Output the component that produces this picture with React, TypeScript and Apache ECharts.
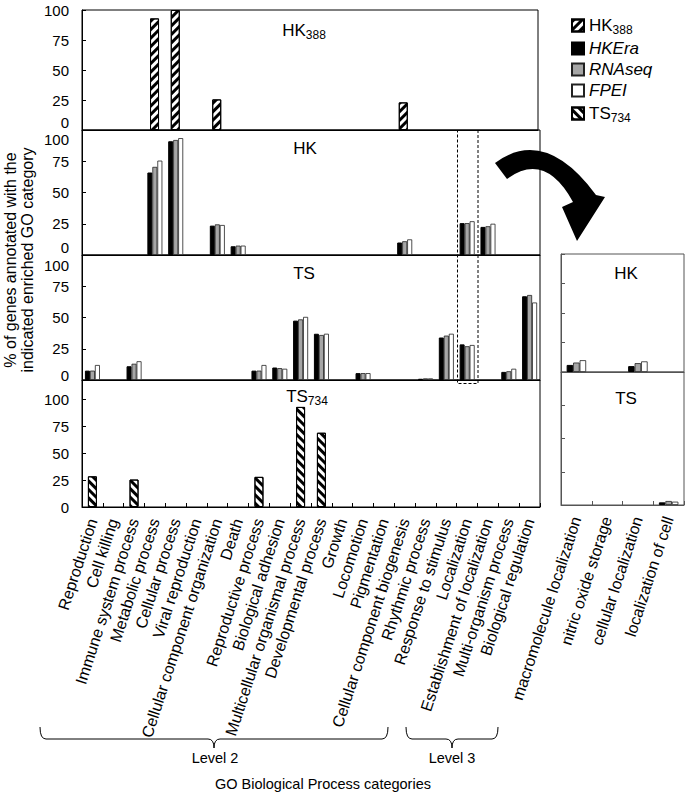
import React, { useEffect, useRef } from 'react';
import * as echarts from 'echarts';

const level2Categories = [
  'Reproduction', 'Cell killing', 'Immune system process', 'Metabolic process', 'Cellular process',
  'Viral reproduction', 'Cellular component organization', 'Death', 'Reproductive process',
  'Biological adhesion', 'Multicellular organismal process', 'Developmental process', 'Growth',
  'Locomotion', 'Pigmentation', 'Cellular component biogenesis', 'Rhythmic process',
  'Response to stimulus', 'Localization', 'Establishment of localization', 'Multi-organism process',
  'Biological regulation',
];
const level3Categories = ['macromolecule localization', 'nitric oxide storage', 'cellular localization', 'localization of cell'];

const yTicks = [0, 25, 50, 75, 100];

// HK388 panel
const hk388 = [null, null, null, 93, 100, null, 25.5, null, null, null, null, null, null, null, null, 23, null, null, null, null, null, null];
// HK panel (level 2)
const hkEraHK = [null, null, null, 66, 91, null, 23.5, 7, null, null, null, null, null, null, null, 10, null, null, 25.5, 22.5, null, null];
const rnaseqHK = [null, null, null, 70.5, 92, null, 24.5, 7.5, null, null, null, null, null, null, null, 11, null, null, 25.5, 23, null, null];
const fpeiHK = [null, null, null, 75.5, 93.5, null, 24, 7.5, null, null, null, null, null, null, null, 12.5, null, null, 27, 25, null, null];
// TS panel (level 2)
const hkEraTS = [7.5, null, 11, null, null, null, null, null, 7.5, 10, 47.5, 37, null, 5.5, null, null, 1, 34, 28.5, null, 6.5, 67];
const rnaseqTS = [7.5, null, 13, null, null, null, null, null, 7.5, 9.5, 48.5, 36, null, 5.5, null, null, 1.3, 35.5, 27, null, 7, 68];
const fpeiTS = [12, null, 15, null, null, null, null, null, 12, 9, 50.5, 37, null, 5.5, null, null, 1.3, 37, 28, null, 9, 62];
// TS734 panel
const ts734 = [28.5, null, 25.5, null, null, null, null, null, 28, null, 93, 69, null, null, null, null, null, null, null, null, null, null];
// Level 3 panels
const hkEraHK3 = [6, null, 5, null];
const rnaseqHK3 = [8, null, 7.5, null];
const fpeiHK3 = [10, null, 9, null];
const hkEraTS3 = [null, null, null, 2];
const rnaseqTS3 = [null, null, null, 3];
const fpeiTS3 = [null, null, null, 2.5];

const FONT = "'Liberation Sans', Arial, Helvetica, sans-serif";

const ARROW_D = 'M495,163 Q545,126 596,195 L605,197 L577,241 L562,207 L573,202 Q545,151 507,179 Z';
const BRACES_D =
  'M40,727 Q40,739 46,739 L208,739 Q214,739 214,748 Q214,739 220,739 L382,739 Q388,739 388,727 ' +
  'M406,727 Q406,739 412,739 L446,739 Q452,739 452,748 Q452,739 458,739 L492,739 Q498,739 498,727';

let registered = false;
function registerShapes() {
  if (registered) return;
  echarts.graphic.registerShape('curvedArrow', echarts.graphic.extendPath(ARROW_D, {}) as any);
  echarts.graphic.registerShape('braces', echarts.graphic.extendPath(BRACES_D, {}) as any);
  registered = true;
}

const hatch = (rotation: number) => ({
  symbol: 'rect',
  symbolSize: 1,
  dashArrayX: [1, 0],
  dashArrayY: [2.5, 2.5],
  rotation,
  color: '#000',
});

const fillStyle: Record<string, any> = {
  HKEra: { color: '#000', borderColor: '#000', borderWidth: 1 },
  RNAseq: { color: '#a6a6a6', borderColor: '#222', borderWidth: 0.8 },
  FPEI: { color: '#fff', borderColor: '#222', borderWidth: 0.8 },
  HK388: { color: '#fff', borderColor: '#000', borderWidth: 1, decal: hatch(-Math.PI / 4) },
  TS734: { color: '#fff', borderColor: '#000', borderWidth: 1, decal: hatch(Math.PI / 4) },
};

function yAxisCfg(gridIndex: number, max: number, shiftTop: number, shiftBottom: number, showLabels = true, lineColor = '#000') {
  return {
    type: 'value',
    gridIndex,
    min: 0,
    max,
    interval: 25,
    splitLine: { show: false },
    axisLine: { show: true, lineStyle: { color: lineColor, width: 1 } },
    axisTick: { show: true, inside: true, length: 4, lineStyle: { color: lineColor } },
    axisLabel: {
      show: showLabels,
      showMaxLabel: max === 100,
      margin: 13,
      fontSize: 15,
      color: '#000',
      fontFamily: FONT,
      formatter: (v: number) => {
        if (!yTicks.includes(v)) return '';
        if (v === 100) return '{t|100}';
        if (v === 0) return '{b|0}';
        return `{n|${v}}`;
      },
      rich: {
        n: { fontSize: 15, lineHeight: 14, fontFamily: FONT, color: '#000' },
        t: { fontSize: 15, lineHeight: 14, fontFamily: FONT, color: '#000', padding: [shiftTop * 2, 0, 0, 0] },
        b: { fontSize: 15, lineHeight: 14, fontFamily: FONT, color: '#000', padding: [0, 0, shiftBottom * 2, 0] },
      },
    },
  };
}

function xAxisCfg(gridIndex: number, data: string[], labels: boolean, lineColor = '#000') {
  return {
    type: 'category',
    gridIndex,
    data,
    axisLine: { show: true, lineStyle: { color: lineColor, width: 1 } },
    axisTick: labels
      ? { show: true, inside: true, length: 4, alignWithLabel: false, interval: 0, lineStyle: { color: lineColor } }
      : { show: false },
    axisLabel: labels
      ? { show: true, interval: 0, rotate: 72, margin: 12, fontSize: 16, color: '#000', fontFamily: FONT }
      : { show: false },
  };
}

function barSeries(name: string, data: (number | null)[], idx: number, barWidth: number) {
  return {
    type: 'bar',
    name,
    xAxisIndex: idx,
    yAxisIndex: idx,
    data,
    barWidth,
    barGap: '0%',
    itemStyle: fillStyle[name],
    emphasis: { disabled: true },
  };
}

function titleText(x: number, y: number, main: string, sub?: string) {
  return {
    type: 'text',
    x,
    y,
    z: 100,
    style: {
      text: sub ? `{m|${main}}{s|${sub}}` : `{m|${main}}`,
      align: 'center',
      verticalAlign: 'middle',
      rich: {
        m: { fontSize: 17, lineHeight: 21, fontFamily: FONT, fill: '#000', color: '#000' },
        s: { fontSize: 12, lineHeight: 12, padding: [9, 0, 0, 0], fontFamily: FONT, fill: '#000', color: '#000' },
      },
    },
  };
}

export default function App() {
  const ref = useRef<HTMLDivElement>(null);

  useEffect(() => {
    if (!ref.current) return;
    registerShapes();
    const chart = echarts.init(ref.current, undefined, { renderer: 'svg' });

    const option: any = {
      animation: false,
      backgroundColor: '#fff',
      textStyle: { fontFamily: FONT },
      legend: {
        orient: 'vertical',
        left: 566,
        top: 10,
        icon: 'rect',
        itemWidth: 12,
        itemHeight: 12,
        itemGap: 4,
        selectedMode: false,
        data: ['HK388', 'HKEra', 'RNAseq', 'FPEI', 'TS734'],
        formatter: (name: string) => {
          if (name === 'HK388') return '{m|HK}{s|388}';
          if (name === 'TS734') return '{m|TS}{s|734}';
          return `{i|${name}}`;
        },
        textStyle: {
          fontSize: 17,
          color: '#000',
          fontFamily: FONT,
          rich: {
            m: { fontSize: 17, lineHeight: 21, fontFamily: FONT, color: '#000' },
            s: { fontSize: 12, lineHeight: 12, padding: [9, 0, 0, 0], fontFamily: FONT, color: '#000' },
            i: { fontSize: 17, lineHeight: 21, fontStyle: 'italic', fontFamily: FONT, color: '#000' },
          },
        },
      },
      grid: [
        { left: 82, top: 10, width: 456, height: 120, show: true, borderColor: '#000', borderWidth: 1 },
        { left: 82, top: 130, width: 458, height: 125, show: true, borderColor: '#000', borderWidth: 1 },
        { left: 82, top: 255, width: 458, height: 125, show: true, borderColor: '#000', borderWidth: 1 },
        { left: 82, top: 380, width: 458, height: 127, show: true, borderColor: '#000', borderWidth: 1 },
        { left: 561, top: 254, width: 123, height: 118, show: true, borderColor: '#555', borderWidth: 1 },
        { left: 561, top: 372, width: 123, height: 133, show: true, borderColor: '#555', borderWidth: 1 },
      ],
      xAxis: [
        xAxisCfg(0, level2Categories, false),
        xAxisCfg(1, level2Categories, false),
        xAxisCfg(2, level2Categories, false),
        xAxisCfg(3, level2Categories, true),
        xAxisCfg(4, level3Categories, false, '#555'),
        xAxisCfg(5, level3Categories, true, '#555'),
      ],
      yAxis: [
        yAxisCfg(0, 100, 0, 7.5),
        yAxisCfg(1, 100, 9.5, 7.5),
        yAxisCfg(2, 100, 10, 5),
        yAxisCfg(3, 118, 0, 0),
        yAxisCfg(4, 100, 0, 0, false, '#555'),
        yAxisCfg(5, 100, 0, 0, false, '#555'),
      ],
      series: [
        barSeries('HK388', hk388, 0, 9),
        barSeries('HKEra', hkEraHK, 1, 5),
        barSeries('RNAseq', rnaseqHK, 1, 5),
        barSeries('FPEI', fpeiHK, 1, 5),
        barSeries('HKEra', hkEraTS, 2, 5),
        barSeries('RNAseq', rnaseqTS, 2, 5),
        barSeries('FPEI', fpeiTS, 2, 5),
        barSeries('TS734', ts734, 3, 9),
        barSeries('HKEra', hkEraHK3, 4, 6.5),
        barSeries('RNAseq', rnaseqHK3, 4, 6.5),
        barSeries('FPEI', fpeiHK3, 4, 6.5),
        barSeries('HKEra', hkEraTS3, 5, 6.5),
        barSeries('RNAseq', rnaseqTS3, 5, 6.5),
        barSeries('FPEI', fpeiTS3, 5, 6.5),
      ],
      graphic: [
        titleText(304, 30, 'HK', '388'),
        titleText(305, 148, 'HK'),
        titleText(304, 273, 'TS'),
        titleText(307, 396, 'TS', '734'),
        titleText(626, 273, 'HK'),
        titleText(626, 398, 'TS'),
        {
          type: 'text',
          x: 19,
          y: 260,
          rotation: Math.PI / 2,
          style: {
            text: '% of genes annotated with the\nindicated enriched GO category',
            fontSize: 16,
            lineHeight: 17,
            fontFamily: FONT,
            fill: '#000',
            align: 'center',
            verticalAlign: 'middle',
          },
        },
        {
          type: 'rect',
          z: 50,
          shape: { x: 457.5, y: 130.5, width: 20.5, height: 253 },
          style: { fill: 'none', stroke: '#000', lineWidth: 1, lineDash: [3, 2] },
        },
        { type: 'curvedArrow', x: 0, y: 0, z: 60, style: { fill: '#000', stroke: 'none' } },
        { type: 'braces', x: 0, y: 0, style: { fill: 'none', stroke: '#000', lineWidth: 1 } },
        {
          type: 'text',
          x: 215,
          y: 758,
          style: { text: 'Level 2', fontSize: 14.5, fontFamily: FONT, fill: '#000', align: 'center', verticalAlign: 'middle' },
        },
        {
          type: 'text',
          x: 452,
          y: 758,
          style: { text: 'Level 3', fontSize: 14.5, fontFamily: FONT, fill: '#000', align: 'center', verticalAlign: 'middle' },
        },
        {
          type: 'text',
          x: 323,
          y: 784,
          style: {
            text: 'GO Biological Process categories',
            fontSize: 14.5,
            fontFamily: FONT,
            fill: '#000',
            align: 'center',
            verticalAlign: 'middle',
          },
        },
      ],
    };

    chart.setOption(option);
    return () => chart.dispose();
  }, []);

  return (
    <div
      ref={ref}
      style={{ position: 'absolute', left: 0, top: 0, width: 687, height: 798, background: '#fff' }}
    />
  );
}
